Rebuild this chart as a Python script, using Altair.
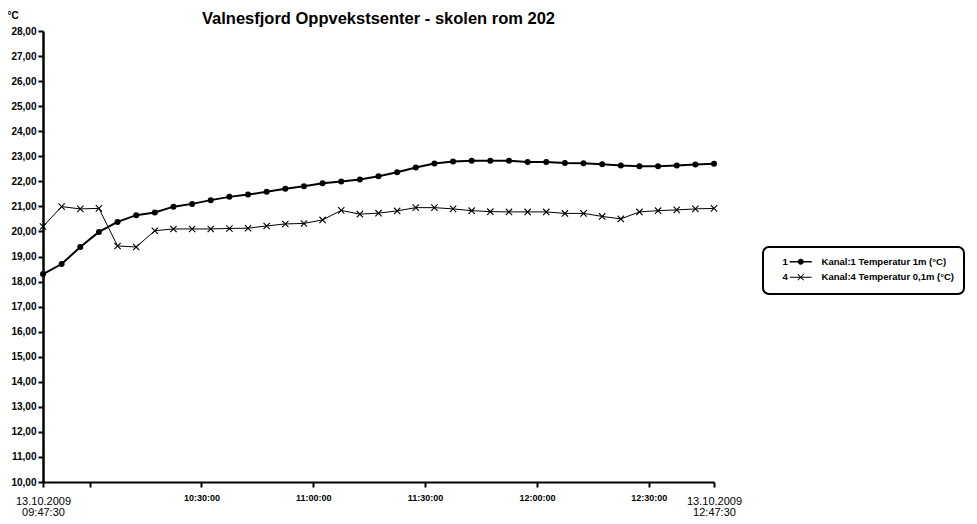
import altair as alt
import pandas as pd

# ---------------- data ----------------
title_text = "Valnesfjord Oppvekstsenter - skolen rom 202"
y_unit = "°C"
date_str = "2009-10-13"

clock_times = [
    "09:47:30", "09:52:30", "09:57:30", "10:02:30", "10:07:30", "10:12:30",
    "10:17:30", "10:22:30", "10:27:30", "10:32:30", "10:37:30", "10:42:30",
    "10:47:30", "10:52:30", "10:57:30", "11:02:30", "11:07:30", "11:12:30",
    "11:17:30", "11:22:30", "11:27:30", "11:32:30", "11:37:30", "11:42:30",
    "11:47:30", "11:52:30", "11:57:30", "12:02:30", "12:07:30", "12:12:30",
    "12:17:30", "12:22:30", "12:27:30", "12:32:30", "12:37:30", "12:42:30",
    "12:47:30",
]

kanal1 = [
    18.30, 18.70, 19.38, 19.98, 20.38, 20.65, 20.76, 20.99, 21.10, 21.25,
    21.38, 21.47, 21.58, 21.70, 21.80, 21.92, 21.99, 22.07, 22.20, 22.36,
    22.55, 22.71, 22.79, 22.82, 22.82, 22.82, 22.77, 22.77, 22.73, 22.72,
    22.68, 22.63, 22.60, 22.60, 22.63, 22.67, 22.70,
]

kanal4 = [
    20.20, 20.99, 20.90, 20.92, 19.42, 19.38, 20.03, 20.10, 20.10, 20.10,
    20.12, 20.13, 20.22, 20.30, 20.32, 20.46, 20.84, 20.69, 20.73, 20.82,
    20.95, 20.95, 20.90, 20.83, 20.79, 20.78, 20.78, 20.78, 20.72, 20.72,
    20.60, 20.50, 20.78, 20.83, 20.86, 20.90, 20.92,
]

series_names = ["Kanal:1 Temperatur 1m (°C)", "Kanal:4 Temperatur 0,1m (°C)"]
series_ids = ["1", "4"]

y_ticks = list(range(10, 29))
x_ticks = ["09:47:30", "10:00:00", "10:30:00", "11:00:00", "11:30:00",
           "12:00:00", "12:30:00", "12:47:30"]

# ---------------- table ----------------
rows = []
for name, vals in zip(series_names, [kanal1, kanal4]):
    for t, v in zip(clock_times, vals):
        rows.append({"time": f"{date_str}T{t}", "series": name, "temp": v})
df = pd.DataFrame(rows)


def dt(hms):
    h, m, s = (int(p) for p in hms.split(":"))
    return alt.DateTime(year=2009, month=10, date=13, hours=h, minutes=m, seconds=s)


FONT = "Liberation Sans"
edge_test = "minutes(datum.value) == 47"

x_axis = alt.Axis(
    values=[dt(t) for t in x_ticks],
    labelExpr=(
        "minutes(datum.value) == 47 ? [timeFormat(datum.value, '%d.%m.%Y'), "
        "timeFormat(datum.value, '%H:%M:%S')] : "
        "(hours(datum.value) == 10 && minutes(datum.value) == 0 ? '' : "
        "timeFormat(datum.value, '%H:%M:%S'))"
    ),
    labelFontSize={"condition": {"test": edge_test, "value": 11}, "value": 9},
    labelFontWeight={"condition": {"test": edge_test, "value": "normal"}, "value": "bold"},
    labelPadding={"condition": {"test": edge_test, "value": 8}, "value": 6},
    labelBaseline="top",
    labelLineHeight=11,
    labelOverlap=False,
    labelFlush=False,
    labelColor="black",
    labelFont=FONT,
    tickSize=5,
    tickWidth=2,
    tickColor="black",
    domainColor="black",
    domainWidth=2,
    grid=False,
    title=None,
)

y_axis = alt.Axis(
    values=y_ticks,
    labelExpr="replace(format(datum.value, '.2f'), '.', ',')",
    labelFontSize=10,
    labelFontWeight="bold",
    labelColor="black",
    labelFont=FONT,
    labelPadding=2,
    tickSize=5,
    tickWidth=2,
    tickColor="black",
    domainColor="black",
    domainWidth=2.5,
    grid=False,
    title=y_unit,
    titleAngle=0,
    titleX=-36,
    titleY=-13,
    titleAlign="left",
    titleBaseline="alphabetic",
    titleFontSize=10,
    titleFontWeight="bold",
    titleFont=FONT,
    titleColor="black",
)

base = alt.Chart(df).encode(
    x=alt.X("time:T", scale=alt.Scale(domain=[dt(x_ticks[0]), dt(x_ticks[-1])]), axis=x_axis),
    y=alt.Y("temp:Q", scale=alt.Scale(domain=[10, 28]), axis=y_axis),
)

line1 = base.transform_filter(alt.datum.series == series_names[0]).mark_line(
    color="black", strokeWidth=2)
line4 = base.transform_filter(alt.datum.series == series_names[1]).mark_line(
    color="black", strokeWidth=1)
pts1 = base.transform_filter(alt.datum.series == series_names[0]).mark_point(
    shape="circle", size=36, filled=True, color="black", opacity=1)
pts4 = base.transform_filter(alt.datum.series == series_names[1]).mark_point(
    shape="M-1,-1L1,1M-1,1L1,-1", size=40, color="black", strokeWidth=1.1, opacity=1)

# legend symbols: line segment + marker, drawn to the right of the channel number
legend_paths = [
    "M12,-0.7H34V0.7H12ZM26,0A3,3,0,1,1,20,0A3,3,0,1,1,26,0Z",
    "M12,-0.45H34V0.45H12Z"
    "M19.65,-2.65L20.35,-3.35L26.35,2.65L25.65,3.35Z"
    "M19.65,2.65L25.65,-3.35L26.35,-2.65L20.35,3.35Z",
]
sp = "\u2003\u2003\u2003\u00a0\u00a0"
legend_expr = (
    f"(indexof(datum.label, 'Kanal:1') == 0 ? '{series_ids[0]}' : '{series_ids[1]}') "
    f"+ '{sp}' + datum.label + '" + "\u00a0" * 4 + "'"
)

legend_layer = base.mark_point(filled=True, color="black", size=0).encode(
    shape=alt.Shape(
        "series:N",
        scale=alt.Scale(domain=series_names, range=legend_paths),
        legend=alt.Legend(
            orient="none",
            legendX=720,
            legendY=216,
            title=None,
            labelExpr=legend_expr,
            labelFont=FONT,
            labelFontSize=9.5,
            labelFontWeight="bold",
            labelColor="black",
            labelLimit=0,
            labelOffset=0,
            symbolOffset=0,
            symbolSize=4,
            symbolFillColor="black",
            symbolOpacity=1,
            strokeColor="black",
            fillColor="white",
            cornerRadius=6,
            padding=10,
            rowPadding=2.5,
        ),
    )
)

chart = alt.layer(line1, line4, pts1, pts4, legend_layer).properties(
    width=671,
    height=451,
    autosize=alt.AutoSizeParams(type="none"),
    padding={"left": 35, "top": 23, "right": 255, "bottom": 34},
    title=alt.TitleParams(
        text=title_text, fontSize=16.5, fontWeight="bold", font=FONT,
        anchor="middle", color="black", offset=0, baseline="bottom", dy=33,
    ),
    background="white",
).configure_view(stroke=None).configure_legend(strokeWidth=2)

chart.save("out.html", embed_options={"renderer": "svg", "actions": False})
